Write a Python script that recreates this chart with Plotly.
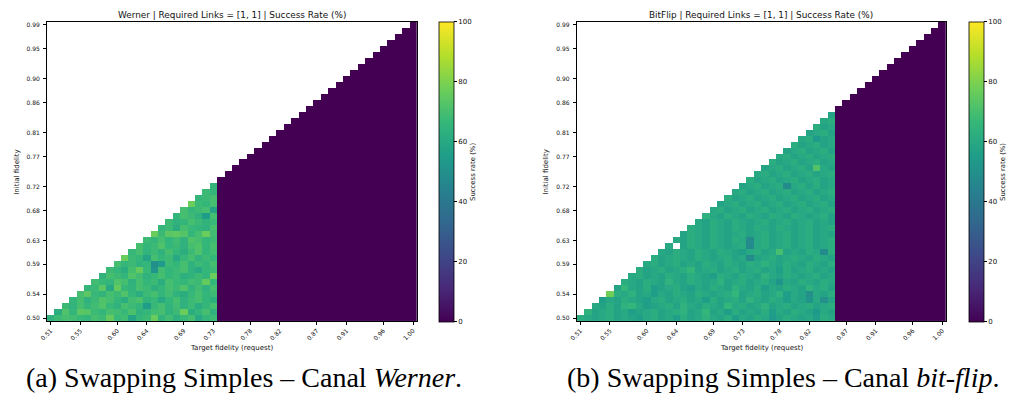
import plotly.graph_objects as go

# ---------------- data ----------------
target_fidelity = [0.51, 0.52, 0.53, 0.54, 0.55, 0.56, 0.57, 0.58, 0.59, 0.60,
                   0.61, 0.62, 0.63, 0.64, 0.65, 0.66, 0.67, 0.68, 0.69, 0.70,
                   0.71, 0.72, 0.73, 0.74, 0.75, 0.76, 0.77, 0.78, 0.79, 0.80,
                   0.81, 0.82, 0.83, 0.84, 0.85, 0.86, 0.87, 0.88, 0.89, 0.90,
                   0.91, 0.92, 0.93, 0.94, 0.95, 0.96, 0.97, 0.98, 0.99, 1.00]
initial_fidelity = [0.50, 0.51, 0.52, 0.53, 0.54, 0.55, 0.56, 0.57, 0.58, 0.59,
                    0.60, 0.61, 0.62, 0.63, 0.64, 0.65, 0.66, 0.67, 0.68, 0.69,
                    0.70, 0.71, 0.72, 0.73, 0.74, 0.75, 0.76, 0.77, 0.78, 0.79,
                    0.80, 0.81, 0.82, 0.83, 0.84, 0.85, 0.86, 0.87, 0.88, 0.89,
                    0.90, 0.91, 0.92, 0.93, 0.94, 0.95, 0.96, 0.97, 0.98, 0.99]

x_tick_labels = ["0.51", "0.55", "0.60", "0.64", "0.69", "0.73",
                 "0.78", "0.82", "0.87", "0.91", "0.96", "1.00"]
y_tick_labels = ["0.50", "0.54", "0.59", "0.63", "0.68", "0.72",
                 "0.77", "0.81", "0.86", "0.90", "0.95", "0.99"]
colorbar_ticks = [0, 20, 40, 60, 80, 100]

# success rate (%) per initial-fidelity row, starting at the diagonal cell
werner_rows = [
    [64, 68, 70, 69, 67, 66, 70, 68, 76, 67, 69, 58, 66, 68, 77, 65, 69, 63, 67, 70, 60, 66, 68],
    [62, 72, 66, 74, 73, 68, 66, 70, 69, 67, 71, 64, 66, 69, 70, 65, 68, 77, 62, 66, 70, 64],
    [68, 65, 70, 66, 69, 72, 67, 64, 70, 68, 66, 55, 67, 70, 65, 69, 64, 68, 62, 66, 70],
    [66, 70, 64, 68, 72, 70, 66, 62, 69, 71, 65, 67, 60, 66, 70, 64, 68, 70, 66, 63],
    [70, 74, 67, 65, 70, 68, 72, 66, 62, 68, 70, 66, 69, 64, 62, 67, 70, 66, 68],
    [66, 68, 74, 60, 76, 67, 65, 70, 68, 63, 66, 70, 68, 72, 65, 69, 64, 70],
    [69, 67, 66, 72, 70, 64, 70, 66, 68, 62, 70, 67, 66, 69, 68, 76, 66],
    [65, 70, 68, 66, 72, 69, 64, 67, 70, 66, 68, 63, 65, 68, 66, 77],
    [68, 66, 62, 70, 76, 67, 52, 69, 66, 68, 70, 64, 60, 66, 68],
    [70, 66, 68, 64, 66, 50, 54, 68, 66, 70, 64, 68, 66, 70],
    [77, 68, 66, 58, 70, 66, 68, 60, 67, 70, 64, 68, 66],
    [67, 70, 65, 68, 64, 70, 66, 62, 68, 72, 66, 69],
    [70, 66, 68, 72, 66, 68, 64, 70, 72, 66, 70],
    [68, 66, 70, 66, 69, 64, 72, 70, 66, 68],
    [77, 68, 74, 75, 73, 66, 70, 77, 69],
    [66, 68, 62, 70, 67, 66, 64, 70],
    [68, 64, 66, 70, 68, 65, 67],
    [66, 70, 68, 64, 55, 70],
    [70, 66, 68, 70, 58],
    [77, 68, 66, 70],
    [66, 68, 70],
    [68, 66],
    [66],
]
werner_zero_from = 0.74   # target fidelity from which the success rate is 0 %

bitflip_rows = [
    [62, 60, 58, 60, 62, 58, 60, 58, 56, 60, 62, 58, 60, 56, 62, 58, 60, 64, 60, 58, 62, 56, 60, 58, 62, 60, 54, 58, 62, 60, 58, 60, 56, 62, 60],
    [64, 58, 60, 62, 58, 60, 56, 58, 60, 62, 58, 60, 62, 64, 58, 60, 66, 58, 60, 56, 62, 58, 60, 58, 62, 56, 60, 58, 62, 60, 58, 54, 60, 58],
    [60, 58, 62, 58, 64, 66, 60, 56, 58, 60, 62, 58, 64, 60, 58, 62, 60, 58, 66, 60, 62, 58, 60, 64, 58, 60, 62, 58, 60, 62, 58, 60, 62],
    [56, 60, 58, 62, 60, 58, 56, 60, 62, 58, 60, 62, 58, 60, 56, 62, 58, 60, 62, 58, 64, 60, 58, 62, 60, 56, 60, 58, 52, 60, 50, 58],
    [78, 62, 60, 64, 58, 60, 56, 60, 58, 62, 60, 58, 62, 60, 58, 60, 62, 66, 58, 60, 62, 58, 60, 64, 56, 60, 58, 50, 60, 58, 62],
    [58, 66, 60, 58, 62, 56, 58, 60, 62, 58, 56, 60, 58, 62, 60, 58, 64, 60, 58, 62, 56, 60, 58, 62, 60, 58, 64, 60, 62, 58],
    [62, 60, 58, 62, 60, 58, 64, 60, 58, 62, 60, 58, 60, 64, 58, 60, 62, 58, 60, 62, 58, 52, 60, 58, 62, 60, 58, 62, 60],
    [60, 62, 58, 60, 58, 62, 60, 58, 62, 60, 58, 56, 62, 60, 58, 62, 60, 58, 64, 60, 58, 62, 60, 58, 60, 62, 58, 60],
    [62, 58, 60, 62, 58, 60, 62, 66, 58, 60, 62, 58, 60, 62, 58, 60, 62, 58, 60, 56, 62, 58, 60, 62, 58, 60, 58],
    [60, 62, 58, 60, 62, 58, 60, 58, 62, 60, 58, 62, 60, 58, 62, 60, 64, 60, 58, 62, 60, 58, 62, 60, 58, 62],
    [62, 58, 60, 62, 60, 58, 62, 60, 58, 60, 62, 58, 60, 48, 58, 60, 62, 58, 60, 62, 60, 58, 62, 60, 58],
    [60, 58, 62, 60, 58, 62, 60, 58, 62, 60, 58, 56, 60, 62, 58, 60, 70, 58, 60, 58, 62, 60, 48, 62],
    [60, None, 58, 62, 60, 58, 62, 60, 58, 60, 62, 48, 60, 62, 58, 60, 62, 58, 60, 62, 58, 60, 62],
    [60, 58, 62, 60, 58, 62, 60, 58, 62, 60, 48, 60, 62, 58, 60, 62, 58, 60, 62, 58, 60, 62],
    [58, 62, 60, 58, 62, 60, 58, 60, 62, 58, 60, 62, 58, 60, 62, 58, 60, 62, 58, 60, 58],
    [62, 60, 58, 62, 60, 58, 62, 60, 58, 62, 60, 58, 62, 60, 58, 60, 62, 58, 60, 62],
    [60, 58, 62, 60, 58, 62, 60, 58, 60, 62, 58, 60, 62, 58, 60, 62, 58, 60, 58],
    [64, 60, 58, 62, 60, 58, 62, 60, 58, 62, 60, 58, 62, 60, 58, 60, 62, 58],
    [60, 62, 58, 60, 62, 58, 60, 62, 58, 60, 62, 58, 60, 62, 58, 60, 62],
    [58, 60, 62, 58, 60, 62, 58, 60, 62, 58, 60, 62, 58, 60, 62, 58],
    [62, 58, 60, 62, 58, 60, 62, 58, 60, 62, 58, 60, 62, 58, 60],
    [60, 62, 58, 60, 62, 58, 60, 62, 58, 60, 62, 58, 60, 62],
    [58, 60, 62, 58, 60, 62, 48, 60, 62, 58, 62, 58, 60],
    [62, 58, 60, 62, 58, 60, 62, 58, 60, 62, 58, 60],
    [60, 62, 58, 60, 62, 58, 60, 62, 58, 60, 62],
    [58, 60, 62, 58, 60, 62, 58, 72, 60, 58],
    [62, 58, 60, 62, 58, 60, 62, 58, 60],
    [60, 62, 58, 60, 62, 58, 60, 62],
    [58, 60, 62, 58, 60, 62, 58],
    [62, 58, 60, 62, 58, 60],
    [60, 62, 54, 58, 60],
    [58, 60, 62, 58],
    [62, 58, 60],
    [60, 62],
    [58],
]
bitflip_zero_from = 0.86

titles = ["Werner | Required Links = [1, 1] | Success Rate (%)",
          "BitFlip | Required Links = [1, 1] | Success Rate (%)"]
captions = ["(a) Swapping Simples – Canal <i>Werner</i>.",
            "(b) Swapping Simples – Canal <i>bit-flip</i>."]


def build_matrix(rows, zero_from):
    n_y, n_x = len(initial_fidelity), len(target_fidelity)
    z = [[None] * n_x for _ in range(n_y)]
    for j in range(n_y):
        for i in range(n_x):
            if target_fidelity[i] > initial_fidelity[j] and target_fidelity[i] >= zero_from - 1e-9:
                z[j][i] = 0
    for j, row in enumerate(rows):
        for k, v in enumerate(row):
            z[j][j + k] = v
    return z


W, H = 1010, 407
FONT = "DejaVu Sans"
TXT = "#111111"

# plot areas in pixels
panels = [
    dict(x0=39.3, x1=412.0, cb_x=434),
    dict(x0=573.3, x1=945.6, cb_x=969),
]
py0, py1 = 21, 321  # top, bottom

fig = go.Figure()
matrices = [build_matrix(werner_rows, werner_zero_from),
            build_matrix(bitflip_rows, bitflip_zero_from)]

for k, (p, z) in enumerate(zip(panels, matrices)):
    ax = "" if k == 0 else "2"
    fig.add_trace(go.Heatmap(
        x=target_fidelity, y=initial_fidelity, z=z,
        colorscale="Viridis", zmin=0, zmax=100,
        xaxis="x" + ax, yaxis="y" + ax,
        hoverongaps=False,
        colorbar=dict(
            x=p["cb_x"] / W, xanchor="left", xpad=0,
            y=1 - py0 / H, yanchor="top", ypad=0,
            lenmode="pixels", len=py1 - py0,
            thicknessmode="pixels", thickness=15,
            outlinewidth=0.8, outlinecolor="#000000",
            tickmode="array", tickvals=colorbar_ticks,
            ticks="outside", ticklen=3, tickwidth=0.8, tickcolor="#000000",
            tickfont=dict(family=FONT, size=7, color=TXT),
            title=dict(text="Success rate (%)", side="right",
                       font=dict(family=FONT, size=6.9, color=TXT)),
        ),
    ))
    xa = dict(
        domain=[p["x0"] / W, p["x1"] / W],
        range=[0.505, 1.005],
        tickmode="array",
        tickvals=[float(t) for t in x_tick_labels],
        ticktext=x_tick_labels,
        tickangle=-45,
        ticks="outside", ticklen=3, tickwidth=0.8, tickcolor="#000000",
        tickfont=dict(family=FONT, size=6, color=TXT),
        showgrid=False, zeroline=False,
        showline=True, linecolor="#000000", linewidth=0.8, mirror=True,
        anchor="y" + ax,
    )
    ya = dict(
        domain=[1 - py1 / H, 1 - py0 / H],
        range=[0.495, 0.995],
        tickmode="array",
        tickvals=[float(t) for t in y_tick_labels],
        ticktext=y_tick_labels,
        ticks="outside", ticklen=3, tickwidth=0.8, tickcolor="#000000",
        tickfont=dict(family=FONT, size=6, color=TXT),
        ticklabelstandoff=2,
        showgrid=False, zeroline=False,
        showline=True, linecolor="#000000", linewidth=0.8, mirror=True,
        anchor="x" + ax,
    )
    fig.layout["xaxis" + ax] = xa
    fig.layout["yaxis" + ax] = ya

    cx = (p["x0"] + p["x1"]) / 2
    fig.add_annotation(text=titles[k], x=cx / W, y=1 - 14 / H,
                       xref="paper", yref="paper", showarrow=False,
                       xanchor="center", yanchor="middle",
                       font=dict(family=FONT, size=8.9, color=TXT))
    fig.add_annotation(text="Target fidelity (request)", x=cx / W, y=1 - 348 / H,
                       xref="paper", yref="paper", showarrow=False,
                       xanchor="center", yanchor="middle",
                       font=dict(family=FONT, size=7, color=TXT))
    fig.add_annotation(text="Initial fidelity", x=(p["x0"] - 31) / W,
                       y=1 - ((py0 + py1) / 2) / H,
                       xref="paper", yref="paper", showarrow=False,
                       textangle=-90, xanchor="center", yanchor="middle",
                       font=dict(family=FONT, size=7, color=TXT))

cap_x = [16, 561]
for k in range(2):
    fig.add_annotation(text=captions[k], x=cap_x[k] / W, y=1 - 377 / H,
                       xref="paper", yref="paper", showarrow=False,
                       xanchor="left", yanchor="middle",
                       font=dict(family="Liberation Serif", size=28, color="#000000"))

fig.update_layout(
    width=W, height=H,
    margin=dict(l=0, r=0, t=0, b=0),
    paper_bgcolor="white", plot_bgcolor="white",
    showlegend=False,
)

fig.write_html("out.html", config={"displayModeBar": False},
               post_script="document.body.style.margin='0';")
